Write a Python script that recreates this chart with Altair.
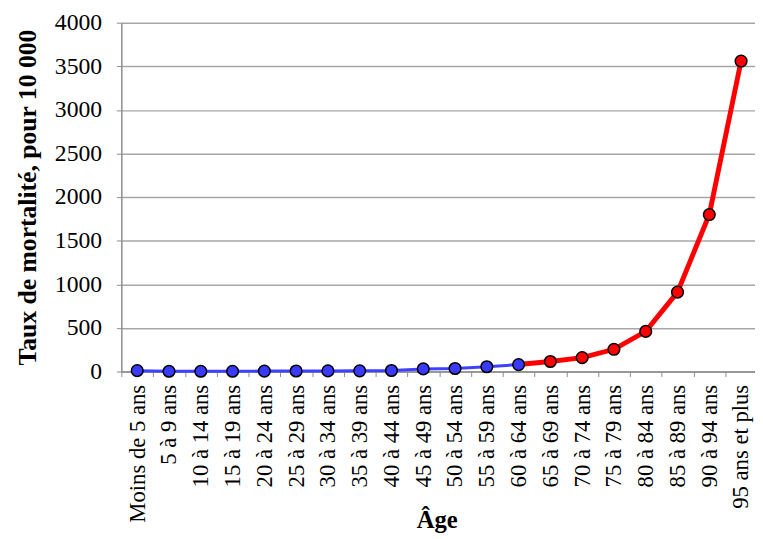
import altair as alt
import pandas as pd

categories = ["Moins de 5 ans", "5 à 9 ans", "10 à 14 ans", "15 à 19 ans", "20 à 24 ans",
              "25 à 29 ans", "30 à 34 ans", "35 à 39 ans", "40 à 44 ans", "45 à 49 ans",
              "50 à 54 ans", "55 à 59 ans", "60 à 64 ans", "65 à 69 ans", "70 à 74 ans",
              "75 à 79 ans", "80 à 84 ans", "85 à 89 ans", "90 à 94 ans", "95 ans et plus"]
values = [10, 3, 3, 3, 5, 6, 7, 8, 12, 30, 35, 55, 80, 115, 160, 255, 460, 910, 1800, 3560]
y_ticks = [0, 500, 1000, 1500, 2000, 2500, 3000, 3500, 4000]
last_young = "60 à 64 ans"

split = categories.index(last_young)
rows_line = []
for i, (c, v) in enumerate(zip(categories, values)):
    if i <= split:
        rows_line.append({"age": c, "taux": v, "serie": "jeune", "ordre": i})
    if i >= split:
        rows_line.append({"age": c, "taux": v, "serie": "age", "ordre": i})
df_line = pd.DataFrame(rows_line)
df_pts = pd.DataFrame({
    "age": categories,
    "taux": values,
    "serie": ["jeune" if i <= split else "age" for i in range(len(categories))],
})

FONT = "Liberation Serif"
GRAY = "#8c8c8c"
color_scale = alt.Scale(domain=["jeune", "age"], range=["#3a3aff", "#ff0000"])

x_enc = alt.X("age:N", sort=categories, bandPosition=0.5,
              scale=alt.Scale(type="band", paddingInner=0, paddingOuter=0, range=[0, 645]),
              axis=alt.Axis(title="Âge", labelAngle=-90, labelAlign="right",
                            labelBaseline="middle", labelPadding=8, tickSize=5,
                            tickBand="extent", grid=False, titleY=158, titleX=320,
                            titleBaseline="alphabetic", titleFontSize=25,
                            labelFontSize=23,
                            domainColor=GRAY, tickColor=GRAY, domainWidth=1.5,
                            labelOverlap=False))
y_enc = alt.Y("taux:Q", scale=alt.Scale(domain=[0, 4000], nice=False),
              axis=alt.Axis(title="Taux de mortalité,  pour 10 000", values=y_ticks,
                            format="d", grid=True, tickSize=5, labelPadding=15,
                            titleX=-87, titleBaseline="alphabetic", titleFontSize=26,
                            labelFontSize=24,
                            domainColor=GRAY, tickColor=GRAY, domainWidth=1.5,
                            gridColor="#a6a6a6", gridWidth=1.5, labelOverlap=False))

blue_line = alt.Chart(df_line).transform_filter(alt.datum.serie == "jeune").mark_line(
    strokeWidth=3, color="#4040ff").encode(x=x_enc, y=y_enc, order="ordre:Q")
red_line = alt.Chart(df_line).transform_filter(alt.datum.serie == "age").mark_line(
    strokeWidth=5, color="#ff0000").encode(x=x_enc, y=y_enc, order="ordre:Q")
points = alt.Chart(df_pts).mark_point(filled=True, size=140, stroke="black",
                                      strokeWidth=1.5, opacity=1).encode(
    x=x_enc, y=y_enc,
    fill=alt.Fill("serie:N", scale=color_scale, legend=None))

chart = alt.layer(blue_line, red_line, points).properties(
    width=640, height=354,
    autosize=alt.AutoSizeParams(type="none"),
    padding={"left": 115, "top": 11, "right": 3, "bottom": 163},
).configure(font=FONT).configure_view(stroke=None).configure_axis(
    labelFont=FONT, titleFont=FONT, labelColor="black", titleColor="black",
    titleFontWeight="bold",
)

chart.save("out.html", embed_options={"renderer": "svg", "actions": False})
